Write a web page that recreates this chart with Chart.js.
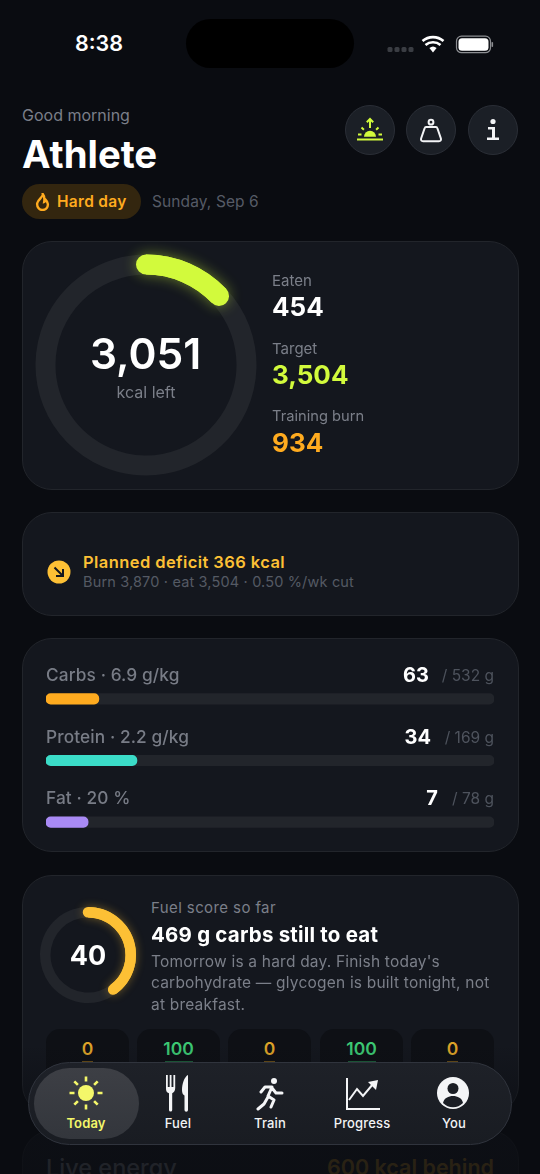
<!DOCTYPE html>
<html lang="en">
<head>
<meta charset="utf-8">
<title>Today</title>
<script src="https://cdn.jsdelivr.net/npm/chart.js@4"></script>
<style>
  * { margin: 0; padding: 0; box-sizing: border-box; }
  html, body { width: 540px; height: 1174px; overflow: hidden; background: #0a0c11; }
  body { position: relative; font-family: Inter, "Noto Sans", sans-serif; color: #fff; }
  .t { position: absolute; white-space: nowrap; line-height: 1; }
  .c { text-align: center; transform: translateX(-50%); }
  .card { position: absolute; left: 22px; width: 497px; background: #14171e; border: 1.5px solid #22252b; border-radius: 30px; }
  canvas { position: absolute; }
  .grey { color: #7b7f89; }
  .dim { color: #555a64; }
  .btn { position: absolute; top: 105px; width: 50px; height: 50px; border-radius: 50%; background: #1b1f26; border: 1.5px solid #2a2e36; }
  .btn svg, .nav svg { position: absolute; }
  .island { position: absolute; left: 186px; top: 19px; width: 168px; height: 49px; border-radius: 25px; background: #000; }
  .tile { position: absolute; top: 1029px; width: 83px; height: 60px; border-radius: 14px; background: #0e1015; }
  .tick { position: absolute; top: 1061px; height: 2px; }
  .fade { position: absolute; left: 0; top: 1045px; width: 540px; height: 129px; background: linear-gradient(to bottom, rgba(10,12,17,0) 0%, rgba(10,12,17,.72) 66%, rgba(10,12,17,.78) 100%); }
  .nav { position: absolute; left: 28px; top: 1062px; width: 484px; height: 83px; border-radius: 42px; background: linear-gradient(to bottom, #1e2128, #191c22); border: 1.5px solid #30343d; }
  .pill { position: absolute; left: 5px; top: 5px; width: 105px; height: 71px; border-radius: 36px; background: linear-gradient(to bottom, #3d3f45, #33363c); }
  .nav .t { font-size: 13px; font-weight: 500; color: #f2f3f5; top: 54px; letter-spacing: .15px; }
</style>
</head>
<body>
  <!-- status bar -->
  <div class="t" style="left:75px;top:33px;font-size:21.5px;font-weight:600">8:38</div>
  <div class="island"></div>
  <svg style="position:absolute;left:386px;top:34px" width="110" height="22" viewBox="0 0 110 22">
    <g fill="#3a3d43"><rect x="1.5" y="13" width="5" height="5" rx="1.5"/><rect x="8.5" y="13" width="5" height="5" rx="1.5"/><rect x="15.5" y="13" width="5" height="5" rx="1.5"/><rect x="22.5" y="13" width="5" height="5" rx="1.5"/></g>
    <path d="M47 18.5l-3.6-4.4a5.6 5.6 0 0 1 7.2 0z" fill="#fff"/>
    <path d="M39.5 9.5a11.5 11.5 0 0 1 15 0M36.5 5.6a16 16 0 0 1 21 0" transform="translate(0 1.5)" fill="none" stroke="#fff" stroke-width="2.6"/>
    <rect x="70.500" y="2.200" width="34" height="16.500" rx="5" fill="none" stroke="#8c8e92" stroke-width="1.2"/>
    <rect x="72.500" y="4.200" width="30" height="12.500" rx="3.500" fill="#fff"/>
    <rect x="105.500" y="8" width="1.6" height="5" rx=".8" fill="#8c8e92"/>
  </svg>

  <!-- header -->
  <div class="t grey" style="left:22px;top:107px;font-size:16px">Good morning</div>
  <div class="t" style="left:22px;top:135px;font-size:38.300px;font-weight:700">Athlete</div>
  <div style="position:absolute;left:22px;top:184px;width:119px;height:35px;border-radius:18px;background:#33260f"></div>
  <svg style="position:absolute;left:35px;top:193px" width="15" height="18" viewBox="0 0 15 18"><path d="M7.8 1c.6 3-4.8 5.200-5.600 9.300C1.700 14 4.200 17 7.500 17s5.800-2.700 5.300-6.200c-.3-2-1.400-3.300-2.300-4.200-.1 1.200-.6 2-1.300 2.300C9.600 6 9.500 3 7.800 1z" fill="none" stroke="#ffab1f" stroke-width="2.400"/></svg>
  <div class="t" style="left:57px;top:194px;font-size:15.500px;font-weight:600;color:#ffab1f;letter-spacing:.3px">Hard day</div>
  <div class="t dim" style="left:152px;top:194px;font-size:15.500px;color:#565b66;letter-spacing:.1px">Sunday, Sep 6</div>

  <div class="btn" style="left:345px">
    <svg style="left:10px;top:11px" width="28" height="26" viewBox="0 0 28 26" fill="#d2fa3c" stroke="#d2fa3c">
      <path d="M7.500 19.800a6 6 0 0 1 12 0z" stroke="none" transform="translate(.5 0)"/>
      <path d="M14 11V2M10.800 5.200L14 2l3.200 3.200M5.500 10.500l2.400 2.200M22.500 10.500l-2.400 2.200M2 17.500h3.500M22.500 17.500h3.500" fill="none" stroke-width="2"/>
      <rect x="1" y="21.500" width="26" height="2" stroke="none"/>
    </svg>
  </div>
  <div class="btn" style="left:406px">
    <svg style="left:12px;top:11px" width="24" height="27" viewBox="0 0 24 27" fill="none" stroke="#f3f4f6" stroke-width="2">
      <circle cx="12" cy="5.200" r="2.400"/>
      <path d="M7 10h10q1 0 1.300 1l3.600 10.500q.6 2.700-2 2.700H4.100q-2.600 0-2-2.700L5.700 11q.3-1 1.300-1z"/>
    </svg>
  </div>
  <div class="btn" style="left:468px">
    <svg style="left:14px;top:12px" width="20" height="24" viewBox="0 0 20 24" fill="#f3f4f6">
      <circle cx="10" cy="3.500" r="2.600"/>
      <path d="M5 9h7v10.500h4V22H4v-2.500h5V11.500H5z"/>
    </svg>
  </div>

  <!-- energy card -->
  <div class="card" style="top:241px;height:249px"></div>
  <canvas id="energyRing" style="left:16px;top:235px"></canvas>
  <div class="t c" style="left:145.500px;top:333px;font-size:42.500px;font-weight:600">3,051</div>
  <div class="t c grey" style="left:146px;top:384px;font-size:16px">kcal left</div>
  <div class="t grey" style="left:272px;top:273px;font-size:15px">Eaten</div>
  <div class="t" style="left:272px;top:294px;font-size:26px;font-weight:700">454</div>
  <div class="t grey" style="left:272px;top:341px;font-size:15px">Target</div>
  <div class="t" style="left:272px;top:362px;font-size:26px;font-weight:700;color:#d2fa3c">3,504</div>
  <div class="t grey" style="left:272px;top:409px;font-size:14.700px">Training burn</div>
  <div class="t" style="left:272px;top:430px;font-size:26px;font-weight:700;color:#ffab1f">934</div>

  <!-- deficit card -->
  <div class="card" style="top:512px;height:104px"></div>
  <svg style="position:absolute;left:47px;top:560px" width="24" height="24" viewBox="0 0 24 24">
    <circle cx="12" cy="12" r="11.500" fill="#fdc035"/>
    <path d="M7.500 7.500l8 8M9 16h7V9" fill="none" stroke="#14171e" stroke-width="2"/>
  </svg>
  <div class="t" style="left:83px;top:554px;font-size:16.500px;font-weight:600;color:#fdc035;letter-spacing:.42px">Planned deficit 366 kcal</div>
  <div class="t dim" style="left:83px;top:575px;font-size:14.500px;letter-spacing:.16px">Burn 3,870 · eat 3,504 · 0.50 %/wk cut</div>

  <!-- macro card -->
  <div class="card" style="top:638px;height:214px"></div>
  <canvas id="macroBars" style="left:46px;top:668px"></canvas>
  <div id="macroText"></div>

  <!-- score card -->
  <div class="card" style="top:875px;height:240px"></div>
  <canvas id="scoreRing" style="left:28px;top:895px"></canvas>
  <div class="t c" style="left:88px;top:942px;font-size:27px;font-weight:700">40</div>
  <div class="t grey" style="left:151px;top:900px;font-size:15px;letter-spacing:.4px">Fuel score so far</div>
  <div class="t" style="left:151px;top:925px;font-size:20.500px;font-weight:700;letter-spacing:.2px">469 g carbs still to eat</div>
  <div class="t grey" style="left:151px;top:954px;font-size:15.500px;letter-spacing:.2px">Tomorrow is a hard day. Finish today's</div>
  <div class="t grey" style="left:151px;top:975px;font-size:15.500px;letter-spacing:.2px">carbohydrate — glycogen is built tonight, not</div>
  <div class="t grey" style="left:151px;top:997px;font-size:15.500px;letter-spacing:.2px">at breakfast.</div>
  <div id="tiles"></div>

  <!-- next card, mostly hidden by the nav fade -->
  <div class="card" style="top:1130px;height:120px"></div>
  <div class="t" style="left:46px;top:1156px;font-size:23.500px;font-weight:500;color:#6a6e77">Live energy</div>
  <div class="t" style="right:46px;top:1157px;font-size:21.500px;font-weight:600;color:#8f691e">600 kcal behind</div>

  <div class="fade"></div>

  <!-- tab bar -->
  <div class="nav">
    <div class="pill"></div>
    <svg style="left:39px;top:12px" width="36" height="36" viewBox="0 0 36 36" stroke="#f4f76a" fill="#f4f76a">
      <circle cx="18" cy="18" r="8" stroke="none"/>
      <path d="M18 1.500v5M18 29.500v5M1.500 18h5M29.500 18h5M6.300 6.300l3.600 3.600M26.100 26.100l3.600 3.600M6.300 29.700l3.600-3.600M26.100 9.900l3.600-3.600" stroke-width="2.600" fill="none"/>
    </svg>
    <div class="t c" style="left:57px;color:#f4f76a;font-weight:600">Today</div>
    <svg style="left:136px;top:11px" width="26" height="38" viewBox="0 0 26 38" fill="#f4f5f7">
      <path d="M1 1h1.800v12H4.700V1h1.800v12h1.900V1h1.800v13c0 3-1.500 4.500-3 5.200V36a1.600 1.600 0 0 1-3.200 0V19.200C1.500 18.500 1 17 1 14z"/>
      <path d="M23 1c-3.500 1.500-6 9-6 15 0 3 1 5 2.500 5.500V36a1.700 1.700 0 0 0 3.500 0z"/>
    </svg>
    <div class="t c" style="left:149px">Fuel</div>
    <svg style="left:227px;top:14px" width="30" height="36" viewBox="0 0 30 36" fill="none" stroke="#f4f5f7" stroke-width="3" stroke-linecap="round" stroke-linejoin="round">
      <circle cx="18" cy="4" r="3" fill="#f4f5f7" stroke="none"/>
      <path d="M5 15l4-5h7l-4 9 6 4-3 7M12 20l-4 7-6 5M16 11l4 5h6"/>
    </svg>
    <div class="t c" style="left:241px">Train</div>
    <svg style="left:316px;top:14px" width="36" height="34" viewBox="0 0 36 34" fill="none" stroke="#f4f5f7" stroke-width="2">
      <path d="M2 1v31h33"/>
      <path d="M4 23l8-11 6 7 10-12"/>
      <path d="M23 5l10-2-2 10z" fill="#f4f5f7" stroke="none"/>
    </svg>
    <div class="t c" style="left:333px">Progress</div>
    <svg style="left:408px;top:14px" width="32" height="32" viewBox="0 0 32 32">
      <circle cx="16" cy="16" r="16" fill="#f4f5f7"/>
      <circle cx="16" cy="11.500" r="5.500" fill="#1b1e25"/>
      <path d="M6 26c1-5 5.500-7 10-7s9 2 10 7a14 14 0 0 1-20 0z" fill="#1b1e25"/>
    </svg>
    <div class="t c" style="left:425px">You</div>
  </div>

<script>
// energy ring: kcal eaten against what is left of the target
const energyLabels = ['Eaten', 'Left'];
const energyValues = [454, 3051];

// fuel score ring
const scoreLabels = ['Score', 'Rest'];
const scoreValues = [40, 60];

// macro bars, fill (% of daily target)
const macroNames = ['Carbs · 6.9 g/kg', 'Protein · 2.2 g/kg', 'Fat · 20 %'];
const macroFill = [11.8, 20.3, 9.4];
const macroTrack = [100, 100, 100];
const macroEaten = ['63', '34', '7'];
const macroTarget = ['/ 532 g', '/ 169 g', '/ 78 g'];

// meal score tiles under the fuel card
const tileScores = [0, 100, 0, 100, 0];

const TRACK = '#22252b';

/**
 * Draws the first slice again as a stroke so the ends get round caps and a soft glow.
 * Geometry comes from the arc element Chart.js already laid out.
 */
const roundCapPlugin = {
    id: 'roundCap',
    afterDatasetsDraw(chart, args, opts) {
        const arc = chart.getDatasetMeta(0).data[0];
        const { x, y, startAngle, endAngle, innerRadius, outerRadius } = arc.getProps(['x', 'y', 'startAngle', 'endAngle', 'innerRadius', 'outerRadius'], true);
        const ctx = chart.ctx;
        ctx.save();
        ctx.beginPath();
        ctx.arc(x, y, (innerRadius + outerRadius) / 2, startAngle, endAngle);
        ctx.lineCap = 'round';
        ctx.lineWidth = outerRadius - innerRadius;
        ctx.strokeStyle = opts.color;
        ctx.shadowColor = opts.glow;
        ctx.shadowBlur = opts.blur;
        ctx.stroke();
        ctx.restore();
    }
};

function makeRing(id, box, labels, values, color, glow, radius, thickness, blur) {
    const canvas = document.getElementById(id);
    canvas.width = box;
    canvas.height = box;
    canvas.style.width = box + 'px';
    canvas.style.height = box + 'px';
    return new Chart(canvas.getContext('2d'), {
        type: 'doughnut',
        data: {
            labels,
            datasets: [{ data: values, backgroundColor: [color, TRACK], borderWidth: 0 }]
        },
        options: {
            responsive: false,
            animation: false,
            radius,
            // a plain number would be scaled against the canvas, a percentage is against the radius
            cutout: ((radius - thickness) / radius * 100) + '%',
            plugins: {
                legend: { display: false },
                tooltip: { enabled: false },
                roundCap: { color, glow, blur }
            }
        },
        plugins: [roundCapPlugin]
    });
}

function makeMacroBars() {
    const canvas = document.getElementById('macroBars');
    canvas.width = 448;
    canvas.height = 185;
    canvas.style.width = '448px';
    canvas.style.height = '185px';
    return new Chart(canvas.getContext('2d'), {
        type: 'bar',
        data: {
            labels: macroNames,
            datasets: [
                {
                    data: macroFill,
                    backgroundColor: ['#ffab1f', '#3bdcc8', '#a98af5'],
                    barThickness: 10.5,
                    borderRadius: 5,
                    borderSkipped: false,
                    order: 0
                },
                {
                    data: macroTrack,
                    backgroundColor: TRACK,
                    barThickness: 10.5,
                    borderRadius: 5,
                    borderSkipped: false,
                    order: 1
                }
            ]
        },
        options: {
            indexAxis: 'y',
            responsive: false,
            animation: false,
            grouped: false,
            scales: {
                x: { display: false, min: 0, max: 100 },
                y: { display: false }
            },
            plugins: { legend: { display: false }, tooltip: { enabled: false } }
        }
    });
}

function addText(parent, className, style, text) {
    const el = document.createElement('div');
    el.className = className;
    el.style.cssText = style;
    el.textContent = text;
    parent.appendChild(el);
}

function buildMacroText() {
    const box = document.getElementById('macroText');
    const eatenRight = [111, 109, 102];
    macroNames.forEach((name, i) => {
        const top = 666 + i * 61.7;
        addText(box, 't', `left:46px;top:${top}px;font-size:17.300px;font-weight:500;color:#787c86;letter-spacing:.1px`, name);
        addText(box, 't', `right:${eatenRight[i]}px;top:${top - 1}px;font-size:20px;font-weight:700`, macroEaten[i]);
        addText(box, 't', `right:46px;top:${top + 2}px;font-size:15.500px;color:#4e535d`, macroTarget[i]);
    });
}

function buildTiles() {
    const box = document.getElementById('tiles');
    const lefts = [46, 137, 228, 320, 411];
    tileScores.forEach((score, i) => {
        const good = score >= 50;
        const center = lefts[i] + 41.5;
        const width = good ? 28 : 11;
        const tile = document.createElement('div');
        tile.className = 'tile';
        tile.style.left = lefts[i] + 'px';
        box.appendChild(tile);
        addText(box, 't c', `left:${center}px;top:1040px;font-size:17.500px;font-weight:600;color:${good ? '#3cc873' : '#dca228'}`, String(score));
        // top edge of the row under the score, the nav hides the rest of it
        const tick = document.createElement('div');
        tick.className = 'tick';
        tick.style.cssText = `left:${center - width / 2}px;width:${width}px;background:${good ? '#1d5f3b' : '#6a4e18'}`;
        box.appendChild(tick);
    });
}

makeRing('energyRing', 260, energyLabels, energyValues, '#d2fa3c', 'rgba(210,250,60,.45)', 110.5, 20, 14);
makeRing('scoreRing', 120, scoreLabels, scoreValues, '#fdc035', 'rgba(253,192,53,.4)', 48, 10.5, 10);
makeMacroBars();
buildMacroText();
buildTiles();
</script>
</body>
</html>
